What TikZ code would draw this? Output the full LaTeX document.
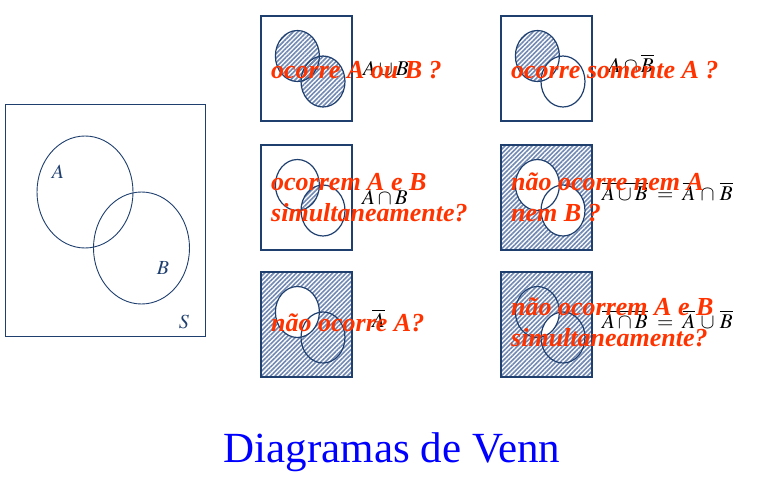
\documentclass[tikz,border=0pt]{standalone}
\usepackage{mathptmx}
\usepackage{fontspec}
\setmainfont{Liberation Serif}
\usetikzlibrary{patterns.meta}
\definecolor{vennblue}{RGB}{31,63,111}
\definecolor{hatchblue}{RGB}{112,136,178}
\definecolor{askred}{RGB}{255,51,0}
\definecolor{titleblue}{RGB}{0,0,255}
\newcommand{\setA}{(36.4,40) ellipse [x radius=22pt, y radius=25.5pt]}
\newcommand{\setB}{(62,65.5) ellipse [x radius=22pt, y radius=25.5pt]}
\newcommand{\universe}{(0,0) rectangle (91,105)}

\begin{document}
\begin{tikzpicture}[x=1pt,y=-1pt]
  \tikzstyle{frame}=[draw=vennblue,line width=1.2pt]
  \tikzstyle{setline}=[draw=vennblue,line width=1.2pt]
  \tikzstyle{hatch}=[pattern={Lines[angle=45,distance=3.2pt,line width=1.6pt]},pattern color=hatchblue]
  \tikzstyle{question}=[text=askred,font=\fontsize{26}{31}\selectfont\bfseries\itshape,anchor=base west,inner sep=0pt]
  \tikzstyle{formula}=[font=\fontsize{21}{25}\selectfont,anchor=base west,inner sep=0pt]
  \tikzstyle{setname}=[text=vennblue,font=\fontsize{20}{24}\selectfont]
  \useasboundingbox (0,0) rectangle (764,479);

  % espaco amostral
  \draw[frame,line width=1pt] (5,104) rectangle (205,336);
  \draw[setline,line width=0.9pt] (85,192) ellipse [x radius=48pt, y radius=56pt];
  \draw[setline,line width=0.9pt] (141.5,248) ellipse [x radius=48pt, y radius=56pt];
  \node[setname] (nameA) at (58,172) {$A$};
  \node[setname] (nameB) at (163,268) {$B$};
  \node[setname] (nameS) at (184,322) {$S$};

  % A ou B
  \begin{scope}[shift={(261,16)}]
    \fill[hatch] \setA; \fill[hatch] \setB;
    \draw[setline] \setA; \draw[setline] \setB;
    \draw[frame] \universe;
  \end{scope}
  % somente A
  \begin{scope}[shift={(501,16)}]
    \fill[hatch] \setA; \fill[white] \setB;
    \draw[setline] \setA; \draw[setline] \setB;
    \draw[frame] \universe;
  \end{scope}
  % A e B
  \begin{scope}[shift={(261,145)}]
    \begin{scope}
      \clip \setA; \fill[hatch] \setB;
    \end{scope}
    \draw[setline] \setA; \draw[setline] \setB;
    \draw[frame] \universe;
  \end{scope}
  % nem A nem B
  \begin{scope}[shift={(501,145)}]
    \fill[hatch] \universe;
    \fill[white] \setA; \fill[white] \setB;
    \draw[setline] \setA; \draw[setline] \setB;
    \draw[frame] \universe;
  \end{scope}
  % nao A
  \begin{scope}[shift={(261,272)}]
    \fill[hatch] \universe;
    \fill[white] \setA;
    \draw[setline] \setA; \draw[setline] \setB;
    \draw[frame] \universe;
  \end{scope}
  % nao A e B
  \begin{scope}[shift={(501,272)}]
    \fill[hatch] \universe;
    \begin{scope}
      \clip \setA; \fill[white] \setB;
    \end{scope}
    \draw[setline] \setA; \draw[setline] \setB;
    \draw[frame] \universe;
  \end{scope}

  % formulas
  \node[formula] (f_1) at (363,75) {$A\cup B$};
  \node[formula] (f_2) at (608,72) {$A\cap\overline{B}$};
  \node[formula] (f_3) at (362,204) {$A\cap B$};
  \node[formula] (f_4) at (602,200) {$\overline{A\cup B}\;=\;\overline{A}\,\cap\,\overline{B}$};
  \node[formula] (f_5) at (372,327) {$\overline{A}$};
  \node[formula] (f_6) at (602,328) {$\overline{A\cap B}\;=\;\overline{A}\,\cup\,\overline{B}$};

  % perguntas
  \node[question] (q_1) at (271,78) {ocorre A ou B ?};
  \node[question] (q_2) at (511,78) {ocorre somente A ?};
  \node[question] (q_3a) at (271,190) {ocorrem A e B};
  \node[question] (q_3b) at (271,221.7) {simultaneamente?};
  \node[question] (q_4a) at (511,190) {não ocorre nem A};
  \node[question] (q_4b) at (511,221.7) {nem B ?};
  \node[question] (q_5) at (271,331.7) {não ocorre A?};
  \node[question] (q_6a) at (511,315.7) {não ocorrem A e B};
  \node[question] (q_6b) at (511,346.7) {simultaneamente?};

  \node[text=titleblue,font=\fontsize{43}{50}\selectfont,anchor=base] (title) at (392,462) {Diagramas de Venn};
\end{tikzpicture}
\end{document}
